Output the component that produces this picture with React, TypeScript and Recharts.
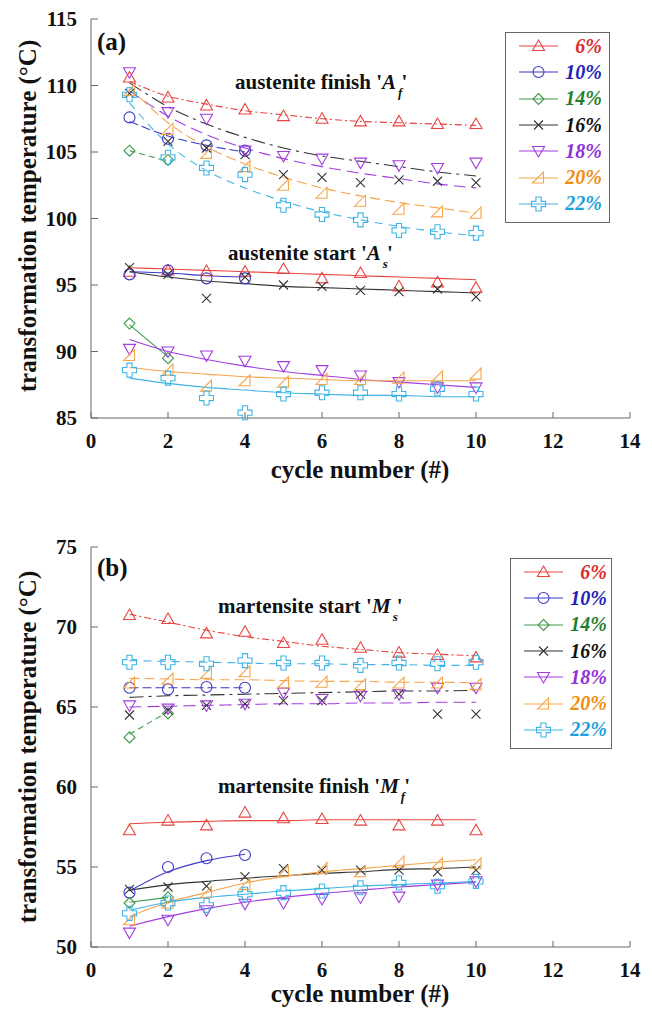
import React from 'react';
import { ScatterChart, Scatter, XAxis, YAxis, Legend } from 'recharts';

const CYCLES = [1, 2, 3, 4, 5, 6, 7, 8, 9, 10];
const X_TICKS = [0, 2, 4, 6, 8, 10, 12, 14];
const Y_TICKS_A = [85, 90, 95, 100, 105, 110, 115];
const Y_TICKS_B = [50, 55, 60, 65, 70, 75];
const LABELS = ['6%', '10%', '14%', '16%', '18%', '20%', '22%'];

// (a) austenite finish: measured points and fitted curves
const af6 = [110.6, 109.1, 108.5, 108.2, 107.7, 107.5, 107.3, 107.3, 107.1, 107.1];
const af6Fit = [110.3, 109.2, 108.6, 108.1, 107.8, 107.5, 107.3, 107.2, 107.1, 107.0];
const af10 = [107.6, 106.0, 105.5, 105.1];
const af10Fit = [107.3, 106.2, 105.5, 105.0];
const af14 = [105.1, 104.4];
const af14Fit = [105.1, 104.3];
const af16 = [109.4, 105.8, 105.3, 104.8, 103.3, 103.1, 102.7, 102.9, 102.8, 102.7];
const af16Fit = [110.2, 108.4, 107.1, 106.1, 105.3, 104.7, 104.3, 103.9, 103.5, 103.2];
const af18 = [111.0, 108.0, 107.5, 105.1, 104.7, 104.5, 104.2, 104.0, 103.8, 104.2];
const af18Fit = [109.6, 107.7, 106.3, 105.3, 104.5, 103.9, 103.4, 103.0, 102.6, 102.3];
const af20 = [109.6, 106.7, 104.9, 103.9, 102.5, 101.9, 101.3, 100.7, 100.5, 100.4];
const af20Fit = [109.9, 107.2, 105.4, 104.1, 103.1, 102.3, 101.7, 101.2, 100.8, 100.4];
const af22 = [109.3, 104.6, 103.8, 103.3, 101.0, 100.3, 99.9, 99.1, 99.0, 98.9];
const af22Fit = [108.7, 105.6, 103.6, 102.3, 101.3, 100.5, 99.9, 99.4, 99.0, 98.7];

// (a) austenite start
const as6 = [96.0, 96.1, 96.05, 96.0, 96.2, 95.5, 95.9, 94.9, 95.2, 94.8];
const as6Fit = [96.3, 96.2, 96.1, 96.0, 95.9, 95.8, 95.7, 95.6, 95.5, 95.4];
const as10 = [95.8, 96.1, 95.5, 95.5];
const as10Fit = [96.0, 95.9, 95.7, 95.6];
const as14 = [92.1, 89.5];
const as14Fit = [92.0, 89.6];
const as16 = [96.3, 95.8, 94.0, 95.6, 95.0, 94.9, 94.6, 94.5, 94.7, 94.1];
const as16Fit = [96.0, 95.6, 95.3, 95.1, 94.9, 94.8, 94.7, 94.6, 94.5, 94.4];
const as18 = [90.2, 90.0, 89.7, 89.3, 88.9, 88.6, 88.2, 87.7, 87.3, 87.3];
const as18Fit = [90.9, 90.0, 89.4, 88.9, 88.5, 88.2, 87.9, 87.7, 87.5, 87.3];
const as20 = [89.7, 88.6, 87.4, 87.8, 87.7, 87.9, 87.9, 88.0, 88.1, 88.3];
const as20Fit = [88.8, 88.5, 88.3, 88.1, 88.0, 87.9, 87.8, 87.8, 87.8, 87.8];
const as22 = [88.6, 88.0, 86.5, 85.4, 86.8, 86.9, 86.9, 86.8, 87.2, 86.8];
const as22Fit = [88.0, 87.6, 87.3, 87.1, 86.9, 86.8, 86.7, 86.7, 86.6, 86.6];

// (b) martensite start
const ms6 = [70.75, 70.5, 69.6, 69.7, 69.0, 69.2, 68.7, 68.4, 68.25, 68.1];
const ms6Fit = [70.8, 70.3, 69.8, 69.4, 69.1, 68.8, 68.6, 68.4, 68.3, 68.2];
const ms10 = [66.2, 66.1, 66.25, 66.2];
const ms10Fit = [66.2, 66.2, 66.2, 66.2];
const ms14 = [63.1, 64.6];
const ms14Fit = [63.3, 64.7];
const ms16 = [64.5, 64.8, 65.1, 65.2, 65.4, 65.4, 65.8, 65.8, 64.55, 64.55];
const ms16Fit = [65.6, 65.7, 65.75, 65.8, 65.85, 65.9, 65.95, 66.0, 66.0, 66.05];
const ms18 = [65.1, 64.9, 65.1, 65.2, 65.9, 65.5, 65.7, 65.8, 66.2, 66.2];
const ms18Fit = [65.0, 65.05, 65.1, 65.15, 65.2, 65.2, 65.25, 65.25, 65.3, 65.3];
const ms20 = [66.5, 66.75, 67.1, 67.2, 66.5, 66.55, 66.4, 66.5, 66.5, 66.4];
const ms20Fit = [66.8, 66.75, 66.7, 66.7, 66.65, 66.6, 66.6, 66.55, 66.55, 66.5];
const ms22 = [67.8, 67.8, 67.7, 67.9, 67.75, 67.75, 67.6, 67.75, 67.7, 67.8];
const ms22Fit = [67.9, 67.85, 67.8, 67.75, 67.7, 67.7, 67.65, 67.65, 67.6, 67.6];

// (b) martensite finish
const mf6 = [57.3, 57.9, 57.6, 58.4, 58.05, 58.0, 57.9, 57.6, 57.9, 57.3];
const mf6Fit = [57.7, 57.8, 57.85, 57.9, 57.9, 57.95, 57.95, 57.95, 57.95, 57.95];
const mf10 = [53.4, 55.0, 55.55, 55.75];
const mf10Fit = [53.5, 54.7, 55.4, 55.8];
const mf14 = [52.75, 53.1];
const mf14Fit = [52.8, 53.1];
const mf16 = [53.6, 53.75, 53.8, 54.4, 54.9, 54.8, 54.8, 54.8, 54.7, 54.8];
const mf16Fit = [53.55, 53.9, 54.1, 54.3, 54.45, 54.6, 54.7, 54.85, 54.9, 55.0];
const mf18 = [50.9, 51.7, 52.3, 52.7, 52.75, 53.0, 53.1, 53.15, 53.9, 54.1];
const mf18Fit = [51.3, 51.9, 52.4, 52.8, 53.1, 53.35, 53.55, 53.75, 53.9, 54.05];
const mf20 = [51.7, 52.75, 53.4, 53.9, 54.7, 54.9, 54.7, 55.3, 55.2, 55.2];
const mf20Fit = [51.9, 52.8, 53.4, 54.0, 54.4, 54.7, 54.9, 55.1, 55.3, 55.45];
const mf22 = [52.1, 52.75, 52.6, 53.3, 53.4, 53.5, 53.7, 54.0, 53.8, 54.1];
const mf22Fit = [52.3, 52.8, 53.1, 53.3, 53.5, 53.65, 53.8, 53.9, 54.0, 54.1];

const STYLES = [
  { color: '#e8443f', text: '#dc2a2a', marker: 'triUp', dash: '7 3 2 3' },
  { color: '#3a3ac8', text: '#2222b8', marker: 'circle', dash: '9 4' },
  { color: '#3c9a48', text: '#1f7f2f', marker: 'diamond', dash: '6 4' },
  { color: '#333333', text: '#111111', marker: 'cross', dash: '14 5 3 5' },
  { color: '#a23de0', text: '#9030d8', marker: 'triDown', dash: '12 6' },
  { color: '#f5a54a', text: '#f08c10', marker: 'rightTri', dash: '10 5' },
  { color: '#40b4e6', text: '#1ea0dc', marker: 'plus', dash: '8 6' },
];

const PANEL_A = [
  { marks: [af6, af10, af14, af16, af18, af20, af22], fits: [af6Fit, af10Fit, af14Fit, af16Fit, af18Fit, af20Fit, af22Fit], dashed: true },
  { marks: [as6, as10, as14, as16, as18, as20, as22], fits: [as6Fit, as10Fit, as14Fit, as16Fit, as18Fit, as20Fit, as22Fit], dashed: false },
];
const PANEL_B = [
  { marks: [ms6, ms10, ms14, ms16, ms18, ms20, ms22], fits: [ms6Fit, ms10Fit, ms14Fit, ms16Fit, ms18Fit, ms20Fit, ms22Fit], dashed: true },
  { marks: [mf6, mf10, mf14, mf16, mf18, mf20, mf22], fits: [mf6Fit, mf10Fit, mf14Fit, mf16Fit, mf18Fit, mf20Fit, mf22Fit], dashed: false },
];

const FRAME = '#666';
const SERIF = "'Liberation Serif', 'Times New Roman', 'DejaVu Serif', serif";

const toPoints = (vals: number[]) => vals.map((y, i) => ({ x: CYCLES[i], y }));

const Marker = ({ cx, cy, kind, color }: any) => {
  if (cx == null || cy == null) return <g />;
  const p = { fill: 'none', stroke: color, strokeWidth: 1.1 };
  switch (kind) {
    case 'triUp':
      return <path d={`M${cx} ${cy - 6}L${cx + 6} ${cy + 4.5}L${cx - 6} ${cy + 4.5}Z`} {...p} />;
    case 'triDown':
      return <path d={`M${cx} ${cy + 6}L${cx + 6} ${cy - 4.5}L${cx - 6} ${cy - 4.5}Z`} {...p} />;
    case 'circle':
      return <circle cx={cx} cy={cy} r={5.5} {...p} />;
    case 'diamond':
      return <path d={`M${cx} ${cy - 5.5}L${cx + 5.5} ${cy}L${cx} ${cy + 5.5}L${cx - 5.5} ${cy}Z`} {...p} />;
    case 'cross':
      return <path d={`M${cx - 4.5} ${cy - 4.5}L${cx + 4.5} ${cy + 4.5}M${cx + 4.5} ${cy - 4.5}L${cx - 4.5} ${cy + 4.5}`} {...p} />;
    case 'rightTri':
      return <path d={`M${cx - 6} ${cy + 5}L${cx + 5} ${cy + 5}L${cx + 5} ${cy - 6}Z`} {...p} />;
    case 'plus': {
      const s = 7;
      const a = 2.6;
      const pts = [[-a, -s], [a, -s], [a, -a], [s, -a], [s, a], [a, a], [a, s], [-a, s], [-a, a], [-s, a], [-s, -a], [-a, -a]];
      return <path d={'M' + pts.map(([dx, dy]) => `${cx + dx} ${cy + dy}`).join('L') + 'Z'} {...p} />;
    }
    default:
      return <g />;
  }
};

const NoShape = () => <g />;

const tickText = { fontFamily: SERIF, fontWeight: 700, fontSize: 21 };

const BottomTick = ({ x, y, payload }: any) => (
  <g>
    <line x1={x} x2={x} y1={y} y2={y - 6} stroke={FRAME} />
    <text x={x} y={y + 30} textAnchor="middle" fill="#111" style={tickText}>
      {payload.value}
    </text>
  </g>
);
const TopTick = ({ x, y }: any) => <line x1={x} x2={x} y1={y} y2={y + 6} stroke={FRAME} />;
const LeftTick = ({ x, y, payload }: any) => (
  <g>
    <line x1={x} x2={x + 7} y1={y} y2={y} stroke={FRAME} />
    <text x={x - 14} y={y} dy="0.35em" textAnchor="end" fill="#111" style={tickText}>
      {payload.value}
    </text>
  </g>
);
const RightTick = ({ x, y }: any) => <line x1={x} x2={x - 7} y1={y} y2={y} stroke={FRAME} />;

const LegendBox = () => (
  <div style={{ border: `1px solid ${FRAME}`, background: '#fff', paddingBottom: 5 }}>
    {LABELS.map((label, i) => (
      <div key={label} style={{ display: 'flex', alignItems: 'center', height: 26.3 }}>
        <svg width={56} height={20} style={{ display: 'block' }}>
          <line x1={13} x2={52} y1={10} y2={10} stroke={STYLES[i].color} strokeWidth={1.1} />
          <Marker cx={32.5} cy={10} kind={STYLES[i].marker} color={STYLES[i].color} />
        </svg>
        <span style={{ width: 40, textAlign: 'right', fontFamily: SERIF, fontWeight: 700, fontStyle: 'italic', fontSize: 20, color: STYLES[i].text }}>
          {label}
        </span>
      </div>
    ))}
  </div>
);

const Panel = ({ top, height, plotTop, plotBottom, domain, yTicks, groups, legendPos }: any) => (
  <div style={{ position: 'absolute', left: 0, top, width: 652, height }}>
    <ScatterChart width={652} height={height} margin={{ top: plotTop, right: 22, bottom: 0, left: 0 }}>
      <XAxis xAxisId="b" type="number" dataKey="x" domain={[0, 14]} ticks={X_TICKS} interval={0} orientation="bottom"
        height={height - plotBottom} tickSize={0} tickMargin={0} tickLine={false} tick={<BottomTick />} axisLine={{ stroke: FRAME }} />
      <XAxis xAxisId="t" type="number" dataKey="x" domain={[0, 14]} ticks={X_TICKS} interval={0} orientation="top"
        height={0} tickSize={0} tickMargin={0} tickLine={false} tick={<TopTick />} axisLine={{ stroke: FRAME }} />
      <YAxis yAxisId="l" type="number" dataKey="y" domain={domain} ticks={yTicks} interval={0} orientation="left"
        width={91} tickSize={0} tickMargin={0} tickLine={false} tick={<LeftTick />} axisLine={{ stroke: FRAME }} />
      <YAxis yAxisId="r" type="number" dataKey="y" domain={domain} ticks={yTicks} interval={0} orientation="right"
        width={0} tickSize={0} tickMargin={0} tickLine={false} tick={<RightTick />} axisLine={{ stroke: FRAME }} />
      {groups.map((g: any, gi: number) =>
        g.fits.map((vals: number[], i: number) => (
          <Scatter key={`fit-${gi}-${i}`} xAxisId="b" yAxisId="l" data={toPoints(vals)} isAnimationActive={false}
            shape={NoShape} lineJointType="monotoneX" legendType="none"
            line={{ stroke: STYLES[i].color, strokeWidth: 1.1, strokeDasharray: g.dashed ? STYLES[i].dash : undefined }} />
        ))
      )}
      {groups.map((g: any, gi: number) =>
        g.marks.map((vals: number[], i: number) => (
          <Scatter key={`pts-${gi}-${i}`} xAxisId="b" yAxisId="l" data={toPoints(vals)} isAnimationActive={false}
            legendType="none"
            shape={(p: any) => <Marker cx={p.cx} cy={p.cy} kind={STYLES[i].marker} color={STYLES[i].color} />} />
        ))
      )}
      <Legend layout="horizontal" verticalAlign="middle" align="center" content={() => <LegendBox />}
        wrapperStyle={{ top: legendPos.top, left: legendPos.left, width: legendPos.width, height: 'auto' }} />
    </ScatterChart>
  </div>
);

const txt = { fontFamily: SERIF, fontWeight: 700 };

const App = () => (
  <div style={{ position: 'absolute', left: 0, top: 0, width: 652, height: 1010, background: '#fff', overflow: 'hidden', fontFamily: SERIF }}>
    <Panel top={0} height={490} plotTop={19} plotBottom={418} domain={[85, 115]} yTicks={Y_TICKS_A} groups={PANEL_A}
      legendPos={{ top: 32, left: 505, width: 105 }} />
    <Panel top={500} height={510} plotTop={47} plotBottom={447} domain={[50, 75]} yTicks={Y_TICKS_B} groups={PANEL_B}
      legendPos={{ top: 58, left: 510, width: 102 }} />
    <svg width={652} height={1010} style={{ position: 'absolute', left: 0, top: 0, pointerEvents: 'none' }}>
      <text x={97} y={50} fill="#111" style={{ ...txt, fontSize: 25 }}>(a)</text>
      <text x={97} y={576} fill="#111" style={{ ...txt, fontSize: 25 }}>(b)</text>

      <text x={235} y={89} fill="#111" style={{ ...txt, fontSize: 21 }}>
        austenite finish '<tspan fontStyle="italic">A</tspan>
        <tspan fontStyle="italic" fontSize={13} dx={2} dy={8}>f</tspan>
        <tspan dx={-1} dy={-8}>'</tspan>
      </text>
      <text x={228} y={260} fill="#111" style={{ ...txt, fontSize: 21 }}>
        austenite start '<tspan fontStyle="italic">A</tspan>
        <tspan fontStyle="italic" fontSize={13} dx={2} dy={8}>s</tspan>
        <tspan dx={-1} dy={-8}>'</tspan>
      </text>
      <text x={218} y={613} fill="#111" style={{ ...txt, fontSize: 21 }}>
        martensite start '<tspan fontStyle="italic">M</tspan>
        <tspan fontStyle="italic" fontSize={13} dx={2} dy={8}>s</tspan>
        <tspan dx={-1} dy={-8}>'</tspan>
      </text>
      <text x={218} y={793} fill="#111" style={{ ...txt, fontSize: 21 }}>
        martensite finish '<tspan fontStyle="italic">M</tspan>
        <tspan fontStyle="italic" fontSize={13} dx={2} dy={8}>f</tspan>
        <tspan dx={-1} dy={-8}>'</tspan>
      </text>

      <text x={360} y={478} textAnchor="middle" fill="#111" style={{ ...txt, fontSize: 25 }}>cycle number (#)</text>
      <text x={360} y={1002} textAnchor="middle" fill="#111" style={{ ...txt, fontSize: 25 }}>cycle number (#)</text>

      <text transform="translate(27,216) rotate(-90)" textAnchor="middle" dominantBaseline="central" fill="#111" style={{ ...txt, fontSize: 25 }}>
        transformation temperature (°C)
      </text>
      <text transform="translate(27,747) rotate(-90)" textAnchor="middle" dominantBaseline="central" fill="#111" style={{ ...txt, fontSize: 25 }}>
        transformation temperature (°C)
      </text>
    </svg>
  </div>
);

export default App;
